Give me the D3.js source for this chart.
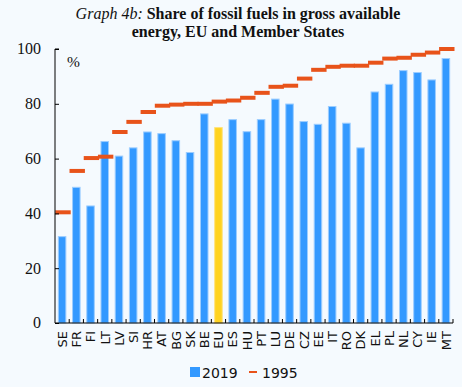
<!DOCTYPE html>
<html><head><meta charset="utf-8">
<script src="https://cdn.jsdelivr.net/npm/d3@7"></script>
<style>body{margin:0;background:#F5FAFE;}svg{display:block;}</style>
</head><body>
<script>
const categories = ["SE","FR","FI","LT","LV","SI","HR","AT","BG","SK","BE","EU","ES","HU","PT","LU","DE","CZ","EE","IT","RO","DK","EL","PL","NL","CY","IE","MT"];
const values2019 = [31.7,49.7,42.9,66.4,61.1,64.1,69.9,69.3,66.7,62.4,76.5,71.5,74.4,70.0,74.4,81.9,80.1,73.7,72.7,79.2,73.1,64.1,84.5,87.3,92.3,91.6,88.9,96.7];
const values1995 = [40.4,55.5,60.2,60.7,69.7,73.4,77.0,79.3,79.7,80.0,80.0,80.8,81.2,82.2,84.0,86.2,86.6,89.2,92.4,93.5,93.9,93.9,95.0,96.5,96.8,97.9,98.7,100.0];
const yTicks = [0,20,40,60,80,100];
const seriesNames = ["2019","1995"];

(function(){
const W=462,H=387;
const svg=d3.select("body").append("svg").attr("width",W).attr("height",H);
svg.append("rect").attr("width",W).attr("height",H).attr("fill","#F5FAFE");

const pL=55,pR=453,pT=49,pB=323;
const x=d3.scaleBand().domain(categories).range([pL,pR]).paddingInner(0.4).paddingOuter(0.2);
const xo=d3.scaleBand().domain(categories).range([pL,pR]);
const y=d3.scaleLinear().domain([0,100]).range([pB,pT]);

// title
const t=svg.append("text").attr("x",238).attr("text-anchor","middle")
  .attr("font-family","Liberation Serif, Times New Roman, serif").attr("font-size",16).attr("fill","#111");
const l1=t.append("tspan").attr("x",238).attr("y",18.5);
l1.append("tspan").attr("font-style","italic").text("Graph 4b: ");
l1.append("tspan").attr("font-weight","bold").text("Share of fossil fuels in gross available");
t.append("tspan").attr("x",238).attr("y",37).attr("font-weight","bold").text("energy, EU and Member States");

// bars
svg.append("g").selectAll("rect").data(categories).join("rect")
  .attr("x",d=>x(d)+0.5).attr("width",x.bandwidth()-1)
  .attr("y",(d,i)=>y(values2019[i])+0.5).attr("height",(d,i)=>pB-y(values2019[i])-0.5)
  .attr("fill",d=>d==="EU"?"#FFD320":"#3399FF")
  .attr("stroke",d=>d==="EU"?"#FFE27A":"#9CCDFF").attr("stroke-width",1);

// 1995 dashes
svg.append("g").selectAll("line").data(categories).join("line")
  .attr("x1",d=>xo(d)+0.3).attr("x2",d=>xo(d)+xo.bandwidth()+1.5)
  .attr("y1",(d,i)=>y(values1995[i])).attr("y2",(d,i)=>y(values1995[i]))
  .attr("stroke","#E8531A").attr("stroke-width",4);

// y axis
const ya=svg.append("g").attr("transform",`translate(${pL},0)`)
  .call(d3.axisRight(y).tickValues(yTicks).tickSize(4).tickFormat(d3.format("d")));
ya.select(".domain").attr("d",`M4,${pT}H0V${pB}`).attr("stroke","#000");
ya.selectAll(".tick line").attr("stroke","#000");
ya.selectAll(".tick text").attr("x",-14).attr("text-anchor","end")
  .attr("font-family","Liberation Serif, Times New Roman, serif").attr("font-size",16).attr("fill","#111").attr("dy","0.3em");

svg.append("text").attr("x",67).attr("y",66.5).text("%")
  .attr("font-family","Liberation Serif, Times New Roman, serif").attr("font-size",15.5).attr("fill","#111");

// x axis
const xa=svg.append("g").attr("transform",`translate(0,${pB})`)
  .call(d3.axisBottom(xo).tickSize(0).tickFormat(""));
xa.select(".domain").attr("stroke","#000").attr("d",`M${pL},0H${pR}`);
xa.selectAll(".tick").remove();
xa.selectAll("line.sep").data(categories).join("line").attr("class","sep")
  .attr("x1",d=>xo(d)+xo.bandwidth()).attr("x2",d=>xo(d)+xo.bandwidth())
  .attr("y1",-4).attr("y2",0).attr("stroke","#000");

svg.append("g").selectAll("text").data(categories).join("text")
  .attr("transform",d=>`translate(${xo(d)+xo.bandwidth()/2+4.8},331) rotate(-90)`)
  .attr("text-anchor","end").text(d=>d)
  .attr("font-family","DejaVu Sans, sans-serif").attr("font-size",13).attr("fill","#111");

// legend
const lg=svg.append("g").attr("font-family","DejaVu Sans, sans-serif").attr("font-size",14).attr("fill","#111");
lg.append("rect").attr("x",190).attr("y",367).attr("width",10).attr("height",10).attr("fill","#3399FF");
lg.append("text").attr("x",202).attr("y",377.5).text(seriesNames[0]);
lg.append("line").attr("x1",249).attr("x2",257).attr("y1",372).attr("y2",372).attr("stroke","#E8531A").attr("stroke-width",2);
lg.append("text").attr("x",262).attr("y",377.5).text(seriesNames[1]);
})();
</script>
</body></html>
